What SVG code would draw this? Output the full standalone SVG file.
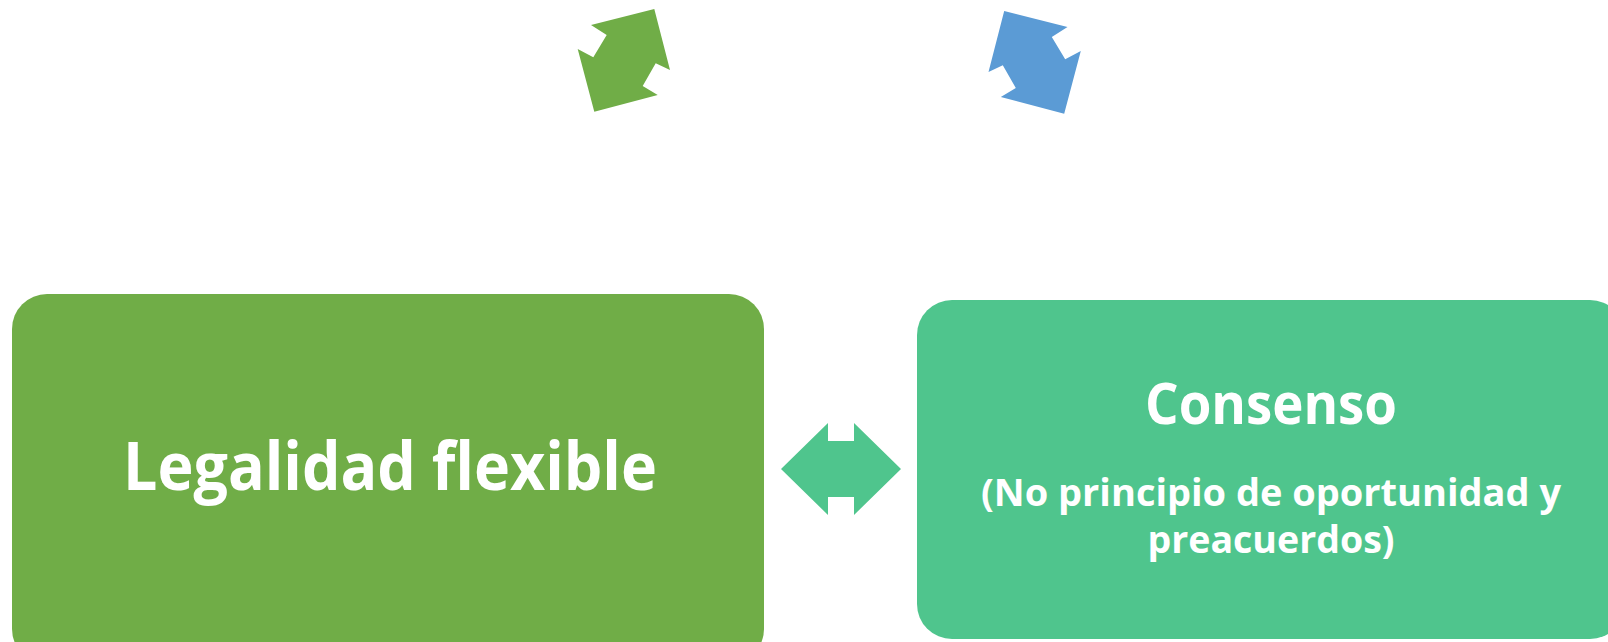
<svg xmlns="http://www.w3.org/2000/svg" width="1608" height="642" viewBox="0 0 1608 642">
  <style>
    .t { font-family: "Open Sans", "Liberation Sans", sans-serif; font-weight: bold; fill: #FFFFFF; text-anchor: middle; }
  </style>
  <defs>
    <polygon id="cycleArrow" points="654.3,9 591,25 606.7,35 593.3,57.3 577.7,49 594.3,111.7 657.7,95 642.7,86 655.7,63.3 670,70"/>
  </defs>
  <rect width="1608" height="642" fill="#FFFFFF"/>
  <g id="connectors">
    <use href="#cycleArrow" fill="#70AD47"/>
    <use href="#cycleArrow" fill="#5B9BD5" transform="translate(1658.5,2) scale(-1,1)"/>
    <polygon fill="#4FC58D" points="781,469 828,423 828,441 854,441 854,423 901,469 854,515 854,497 828,497 828,515"/>
  </g>
  <g id="node-legalidad">
    <rect x="12" y="294" width="752" height="370" rx="35" ry="35" fill="#70AD47"/>
    <text class="t" x="390" y="490" font-size="66" textLength="534" lengthAdjust="spacingAndGlyphs">Legalidad flexible</text>
  </g>
  <g id="node-consenso">
    <rect x="917" y="300" width="708" height="339" rx="35" ry="35" fill="#4FC58D"/>
    <text class="t" x="1271" y="424" font-size="58" textLength="252" lengthAdjust="spacingAndGlyphs">Consenso</text>
    <text class="t" x="1271" y="506" font-size="37" textLength="580" lengthAdjust="spacingAndGlyphs">(No principio de oportunidad y</text>
    <text class="t" x="1271" y="553" font-size="37" textLength="247" lengthAdjust="spacingAndGlyphs">preacuerdos)</text>
  </g>
</svg>
